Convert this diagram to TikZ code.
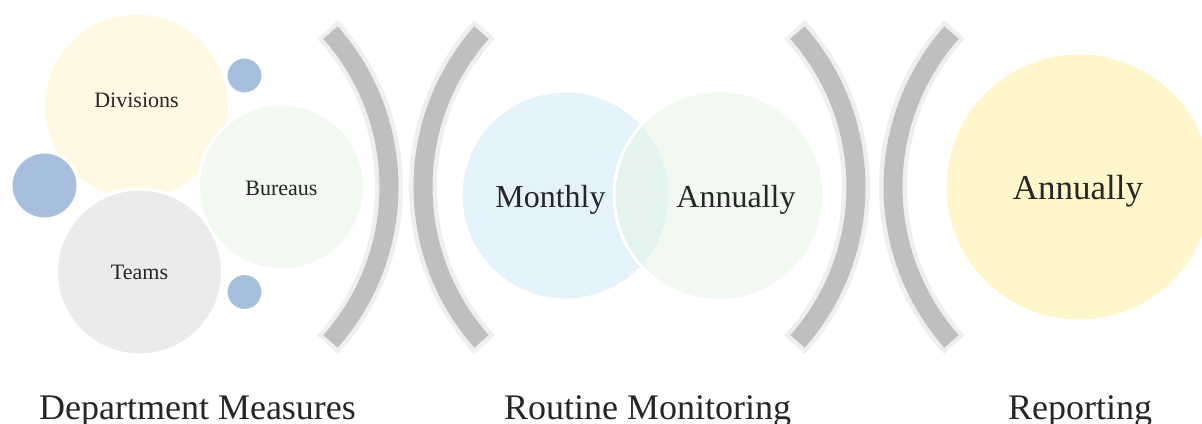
\documentclass[tikz,border=0pt]{standalone}
\usepackage{fontspec}
\setmainfont{Liberation Serif}
\usepackage{tikz}
\usetikzlibrary{positioning}

\definecolor{divyellow}{HTML}{FFF9E3}
\definecolor{repyellow}{HTML}{FFF6CC}
\definecolor{burgreen}{HTML}{F2F9F1}
\definecolor{annugreen}{HTML}{E7F4E6}
\definecolor{teamgray}{HTML}{EBEBEB}
\definecolor{monblue}{HTML}{E4F2FC}
\definecolor{dotblue}{HTML}{A7BFDD}
\definecolor{rimgray}{HTML}{EFEFEF}
\definecolor{coregray}{HTML}{BFBFBF}
\definecolor{labelgray}{HTML}{262626}

\begin{document}
\begin{tikzpicture}[x=1pt,y=-1pt]
\tikzstyle{bubble}=[circle,draw=white,line width=3pt,inner sep=0,outer sep=0]
\tikzstyle{dot node}=[bubble,fill=dotblue]
\tikzstyle{small label}=[anchor=base,text=labelgray,inner sep=0,font=\fontsize{22}{24}\selectfont]
\tikzstyle{mid label}=[anchor=base,text=labelgray,inner sep=0,font=\fontsize{32}{36}\selectfont]
\tikzstyle{big label}=[anchor=base,text=labelgray,inner sep=0,font=\fontsize{35}{40}\selectfont]
\tikzstyle{stage label}=[anchor=base,text=labelgray,inner sep=0,font=\fontsize{36}{40}\selectfont]
\tikzset{
  bracket rim/.style  = {draw=rimgray,line width=28pt},
  bracket core/.style = {draw=coregray,line width=19pt}
}

\useasboundingbox (0,0) rectangle (1202,423);

    % department measures
    \node[bubble,fill=divyellow,minimum size=186pt] (div) at (136.5,106) {};
    \node[bubble,fill=burgreen,minimum size=166pt]  (bur) at (281.5,187) {};
    \node[bubble,fill=teamgray,minimum size=166pt]  (team) at (139.5,272) {};
    \node[dot node,minimum size=67pt] (dbig) at (44.5,185.5) {};
    \node[dot node,minimum size=37pt] (dtop) at (244.5,75.5) {};
    \node[dot node,minimum size=37pt] (dbot) at (244.5,292) {};

    \node[small label] (divt)  at (136.5,107) {Divisions};
    \node[small label] (burt)  at (281.5,195) {Bureaus};
    \node[small label] (teamt) at (139.5,279) {Teams};
    %%%%%%%%%%%%%%%%%%%%%%%%%%%%%%%%%%
    % routine monitoring
    \node[bubble,fill=monblue,minimum size=209pt] (mon) at (565.5,195.5) {};
    \node[bubble,fill=annugreen,fill opacity=0.55,minimum size=210pt] (ann) at (719,195.5) {};

    \node[mid label] (mont) at (550.5,207) {Monthly};
    \node[mid label] (annt) at (736,207) {Annually};
    %%%%%%%%%%%%%%%%%%%%%%%%%%%%%%%%%%
    % reporting
    \node[bubble,fill=repyellow,minimum size=268pt] (rep) at (1079,187) {};
    \node[big label] (rept) at (1078,199) {Annually};

    %%%%%%%%%%%%%%%%%%%%%%%%%%%%%%%%%%
    % brackets between the stages
    \coordinate (br1) at (156,187);
    \coordinate (br2) at (656,187);
    \coordinate (br3) at (623,187);
    \coordinate (br4) at (1126,187);
    \foreach \c/\a in {br1/0,br2/180,br3/0,br4/180}{
      \draw[bracket rim]  (\c) ++(\a-42.6:233) arc[start angle=\a-42.6,end angle=\a+42.6,radius=233];
      \draw[bracket core] (\c) ++(\a-41.5:233) arc[start angle=\a-41.5,end angle=\a+41.5,radius=233];
    }

    \node[stage label] (dept)    at (197.5,419) {Department Measures};
    \node[stage label] (routine) at (647.5,419) {Routine Monitoring};
    \node[stage label] (report)  at (1080,419)  {Reporting};
\end{tikzpicture}
\end{document}
